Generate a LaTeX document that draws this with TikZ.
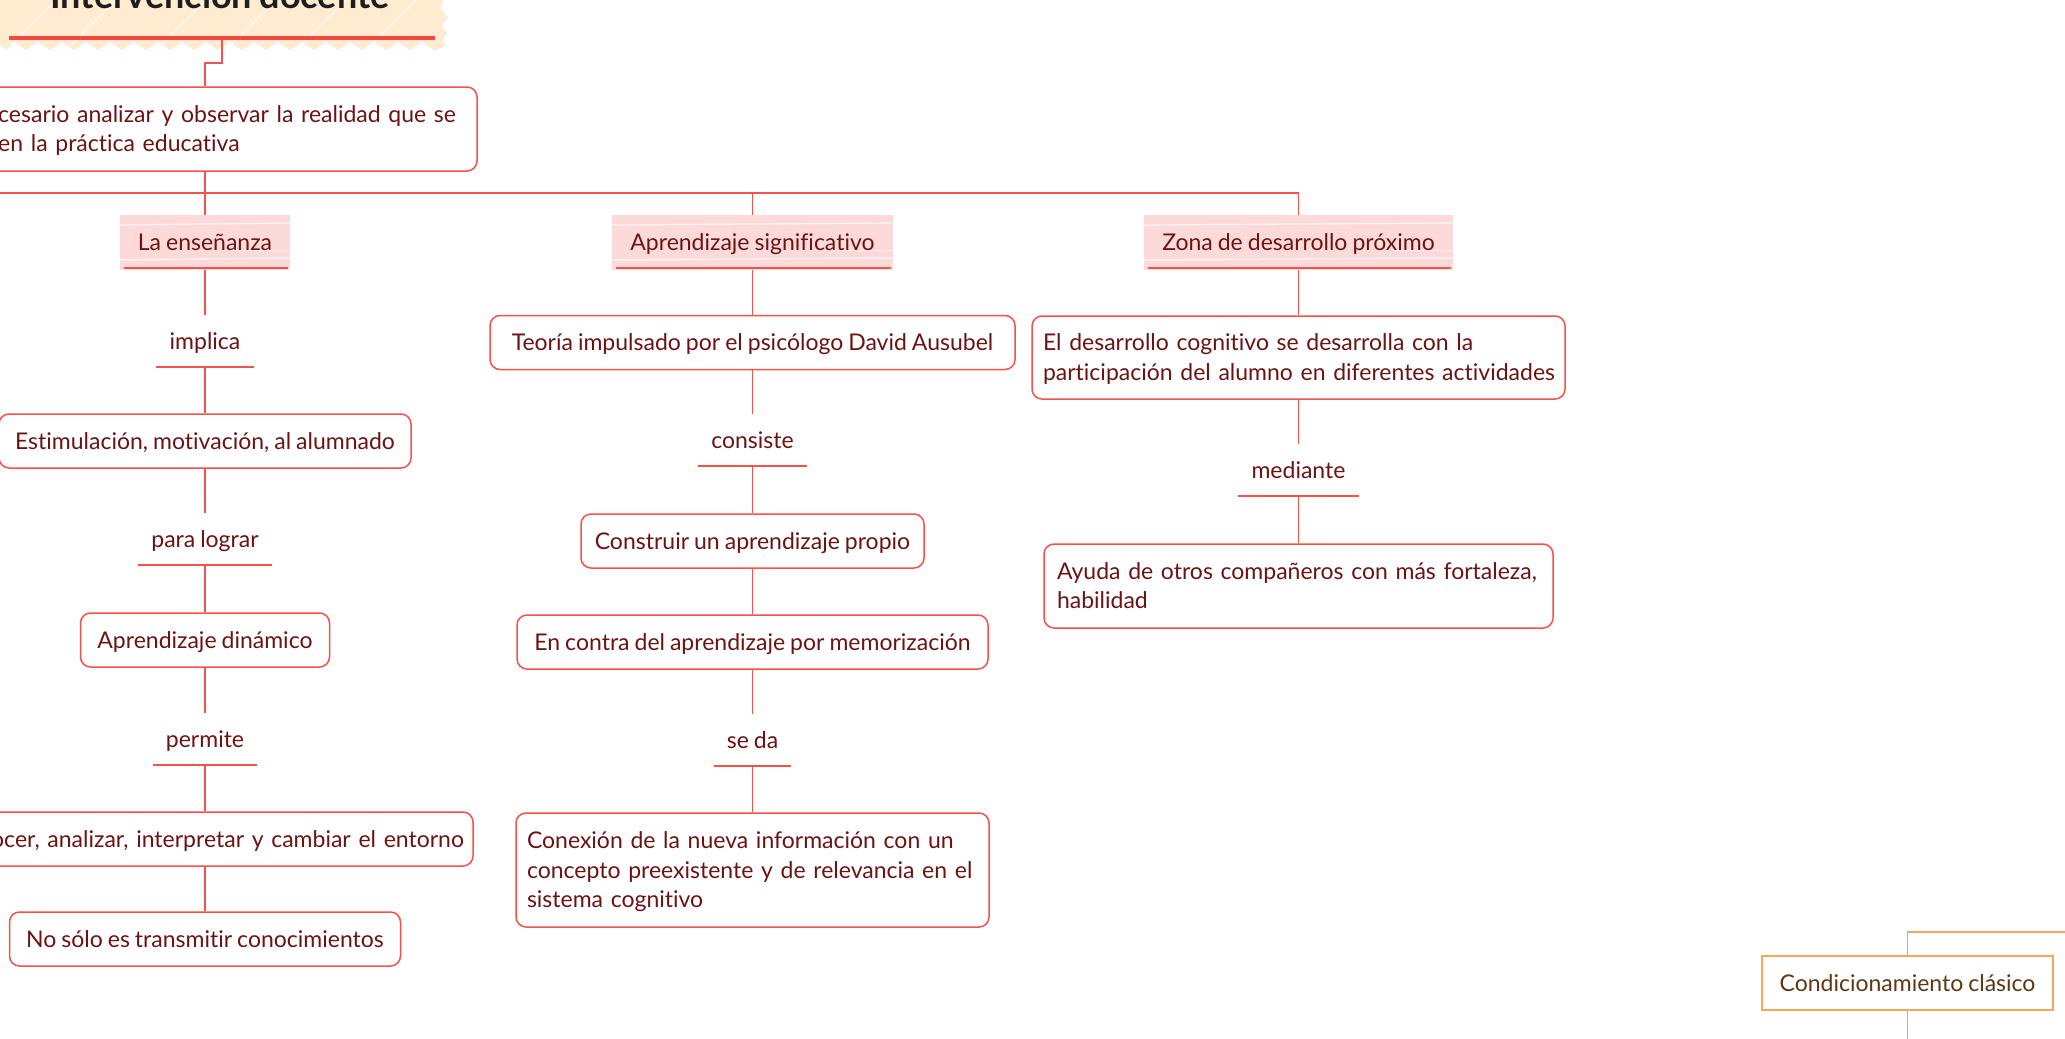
\documentclass[tikz,border=0pt]{standalone}
\usepackage{fontspec}
\setmainfont{Lato}[WordSpace=0.85, RawFeature={-liga}]
\usetikzlibrary{calc}
\definecolor{redc}{HTML}{F4524C}
\definecolor{redT}{HTML}{F4473F}
\definecolor{txt}{HTML}{6B1414}
\definecolor{pinkf}{HTML}{FDDADA}
\definecolor{creamf}{HTML}{FEEBD0}
\definecolor{orangec}{HTML}{F5A65B}
\definecolor{browntxt}{HTML}{5E3812}
\definecolor{titc}{HTML}{1E1E1E}
\newcommand\mmbody{\fontsize{23}{29.5}\selectfont}
\newcommand\mmtitle{\fontsize{36}{40}\selectfont\bfseries}
\tikzset{
  conn/.style={draw=redc, line width=1.5pt},
  oconn/.style={draw=orangec, line width=1.5pt},
  box/.style={draw=redc, line width=1.5pt, rounded corners=10pt, fill=white,
    text=txt, font=\mmbody, inner sep=0pt, text height=20pt, text depth=4pt,
    minimum height=54pt},
  obox/.style={draw=orangec, line width=1.5pt, fill=white,
    text=browntxt, font=\mmbody, inner sep=0pt, text height=20pt, text depth=4pt},
  lbl/.style={text=txt, font=\mmbody, inner xsep=13pt, inner ysep=0pt,
    text height=34pt, text depth=18pt},
  heading/.style={fill=pinkf, text=txt, font=\mmbody, inner xsep=18pt,
    inner ysep=15.5pt, text height=20pt, text depth=4pt,
    path picture={
      \draw[white, line width=1.2pt, opacity=0.7]
        ([yshift=-10pt]path picture bounding box.north west) --
        ([yshift=-8pt]path picture bounding box.north east);
      \draw[white, line width=1.5pt, opacity=0.7]
        ([yshift=10pt]path picture bounding box.south west) --
        ([yshift=12pt]path picture bounding box.south east);
      \draw[white, line width=0.8pt, opacity=0.5]
        ([yshift=20pt,xshift=-60pt]path picture bounding box.south east) --
        ([yshift=20pt]path picture bounding box.south east);
    }},
  hline/.style={draw=redc, line width=2pt},
  txtnode/.style={text=txt, font=\mmbody, inner sep=0pt}
}
\begin{document}
\begin{tikzpicture}[x=1pt, y=-1pt]
\useasboundingbox (0,0) rectangle (2065,1039);
\fill[white] (0,0) rectangle (2065,1039);
\clip (0,0) rectangle (2065,1039);

% title banner
\fill[creamf] (-5,-5) -- (445,-5) -- (440,8) -- (448,18) -- (441,26) -- (447,33) -- (442,40) -- (446,46)
  \foreach \i in {422,398,...,14} { -- ({\i+12},50) -- ({\i},42) } -- (6,50) -- (0,44) -- (-5,44) -- cycle;
\foreach \sx in {10,70,160,230,300,370} {
  \draw[white, line width=1.2pt, opacity=0.75] (\sx,46) -- ({\sx+46},0);
}
\node[font=\mmtitle, anchor=base, text=titc, inner sep=0pt] (title) at (220,8) {Intervención docente};
\draw[redT, line width=4pt] (9,38) -- (435,38);
\coordinate (tstem) at (222,40);

% first box
\node[box, minimum width=544pt, minimum height=84pt] (b1) at (205,129) {};
\node[txtnode, anchor=base west, text width=520pt, align=left] (b1t) at (-2,122)
  {\mbox{cesario analizar y observar la realidad que se}\\\mbox{en la práctica educativa}};
\draw[conn] (tstem) -- ++(0,23) -| (b1.north);

% headings
\node[heading] (h1) at (205,242.5) {La enseñanza};
\node[heading] (h2) at (752.5,242.5) {Aprendizaje significativo};
\node[heading] (h3) at (1298.5,242.5) {Zona de desarrollo próximo};
\foreach \h in {h1,h2,h3} {
  \draw[hline] ([xshift=4pt,yshift=2pt]\h.south west) -- ([xshift=-2pt,yshift=2pt]\h.south east);
}
\coordinate (busleft) at (-10,193);
\draw[conn] (busleft) -- (h3.north |- busleft) -- (h3.north);
\draw[conn] (h1.north) -- (h1.north |- busleft);
\draw[conn] (h2.north) -- (h2.north |- busleft);
\draw[draw=redc, line width=2.5pt] (b1.south) -- (b1.south |- busleft);

% column 1
\node[lbl, anchor=base] (l1) at (205,349) {implica};
\node[box, minimum width=412pt] (c1a) at (205,441) {Estimulación, motivación, al alumnado};
\node[lbl, anchor=base] (l2) at (205,547) {para lograr};
\node[box, minimum width=249pt] (c1b) at (205,640) {Aprendizaje dinámico};
\node[lbl, anchor=base] (l3) at (205,747) {permite};
\node[box, minimum width=536pt, text width=518pt, align=right] (c1c) at (205,839) {ocer, analizar, interpretar y cambiar el entorno};
\node[box, minimum width=391pt] (c1d) at (205,939) {No sólo es transmitir conocimientos};

% column 2
\node[box, minimum width=525pt] (c2a) at (752.5,342.5) {Teoría impulsado por el psicólogo David Ausubel};
\node[lbl, anchor=base] (l4) at (752.5,448) {consiste};
\node[box, minimum width=343pt] (c2b) at (752.5,541) {Construir un aprendizaje propio};
\node[box, minimum width=471pt] (c2c) at (752.5,642) {En contra del aprendizaje por memorización};
\node[lbl, anchor=base] (l5) at (752.5,748) {se da};
\node[box, minimum width=473pt, minimum height=114pt, text width=451pt, align=left, text depth=63pt] (c2d) at (752.5,870)
  {\mbox{Conexión de la nueva información con un}\\\mbox{concepto preexistente y de relevancia en el}\\\mbox{sistema cognitivo}};

% column 3
\node[box, minimum width=533pt, minimum height=83pt, text width=511pt, align=left, text depth=33.5pt] (c3a) at (1298.5,357.5)
  {\mbox{El desarrollo cognitivo se desarrolla con la}\\\mbox{participación del alumno en diferentes actividades}};
\node[lbl, anchor=base] (l6) at (1298.5,478) {mediante};
\node[box, minimum width=509pt, minimum height=84pt, text width=483pt, align=left, text depth=33.5pt] (c3b) at (1298.5,586)
  {\mbox{Ayuda de otros compañeros con más fortaleza,}\\\mbox{habilidad}};

% label underlines
\foreach \l in {l1,l2,l3,l4,l5,l6} {
  \draw[conn] (\l.south west) -- (\l.south east);
}

% connectors
\draw[conn] (h1.south) -- (l1.north);
\draw[conn] (l1.south) -- (c1a.north);
\draw[conn] (c1a.south) -- (l2.north);
\draw[conn] (l2.south) -- (c1b.north);
\draw[conn] (c1b.south) -- (l3.north);
\draw[conn] (l3.south) -- (c1c.north);
\draw[conn] (c1c.south) -- (c1d.north);

\draw[conn] (h2.south) -- (c2a.north);
\draw[conn] (c2a.south) -- (l4.north);
\draw[conn] (l4.south) -- (c2b.north);
\draw[conn] (c2b.south) -- (c2c.north);
\draw[conn] (c2c.south) -- (l5.north);
\draw[conn] (l5.south) -- (c2d.north);

\draw[conn] (h3.south) -- (c3a.north);
\draw[conn] (c3a.south) -- (l6.north);
\draw[conn] (l6.south) -- (c3b.north);

% orange branch
\node[obox, minimum width=291pt, minimum height=54pt] (cc) at (1907.5,983) {Condicionamiento clásico};
\coordinate (ccr) at (2075,932);
\coordinate (ccb) at (1907.5,1050);
\draw[oconn] (cc.north) |- (ccr);
\draw[oconn] (cc.south) -- (ccb);
\end{tikzpicture}
\end{document}
